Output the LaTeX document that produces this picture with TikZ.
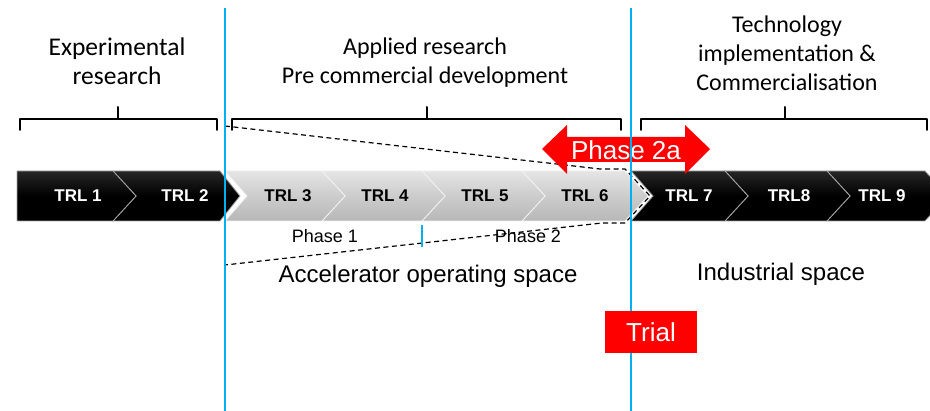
\documentclass[tikz,border=0pt]{standalone}
\usepackage{fontspec}
\setmainfont{Liberation Sans}
\newfontfamily\calfont{Carlito}
\definecolor{skyb}{RGB}{0,176,240}
\definecolor{redx}{RGB}{255,0,0}
\begin{document}
\begin{tikzpicture}[x=1pt,y=-1pt]
\tikzset{
 blk/.style={top color=black!85, bottom color=black, middle color=black, draw=white!65!black, line width=0.8pt},
 gry/.style={top color=white!90!black, bottom color=white!72!black, middle color=white!80!black, draw=white!95!black, line width=0.8pt},
 trlw/.style={text=white, font=\fontsize{17}{18}\selectfont\bfseries},
 trlb/.style={text=black, font=\fontsize{17}{18}\selectfont\bfseries},
 hdr/.style={align=center, font=\calfont\fontsize{24}{29}\selectfont},
 lbl/.style={font=\fontsize{24}{28}\selectfont},
 smalllbl/.style={font=\fontsize{18}{20}\selectfont},
 brk/.style={line width=2pt, line join=round, line cap=round},
 dsh/.style={line width=1.2pt, dash pattern=on 5pt off 3.5pt},
 vline/.style={draw=skyb, line width=2pt},
 redbox/.style={fill=redx, draw=none},
}
\useasboundingbox (0,0) rectangle (930,411);
\fill[white] (0,0) rectangle (930,411);

% brackets
\draw[brk] (20,130) -- (20,119) -- (217,119) -- (217,130) (118,119) -- (118,107);
\draw[brk] (232,130) -- (232,119) -- (621,119) -- (621,130) (427,119) -- (427,107);
\draw[brk] (641,130) -- (641,119) -- (927,119) -- (927,130) (785,119) -- (785,107);

% headers
\node[hdr, font=\calfont\fontsize{25.5}{29}\selectfont] (hexp) at (117,61) {Experimental\\research};
\node[hdr] (happ) at (425,63) {Applied research\\Pre commercial development};
\node[hdr] (htec) at (787,53) {Technology\\implementation \&\\Commercialisation};

% black chevrons right
\path[blk] (827,171) -- (925,171) -- (948,196) -- (925,221) -- (827,221) -- (850,196) -- cycle;
\path[blk] (725,171) -- (827,171) -- (850,196) -- (827,221) -- (725,221) -- (748,196) -- cycle;
\path[blk] (631,171) -- (725,171) -- (748,196) -- (725,221) -- (631,221) -- (653,196) -- cycle;
% grey chevrons
\path[gry] (522,171) -- (625,171) -- (648,196) -- (625,221) -- (522,221) -- (545,196) -- cycle;
\path[gry] (422,171) -- (522,171) -- (545,196) -- (522,221) -- (422,221) -- (445,196) -- cycle;
\path[gry] (322,171) -- (422,171) -- (445,196) -- (422,221) -- (322,221) -- (345,196) -- cycle;
\path[gry] (225,171) -- (322,171) -- (345,196) -- (322,221) -- (225,221) -- (247,196) -- cycle;
% black chevrons left
\path[blk] (113,171) -- (220,171) -- (240,196) -- (220,221) -- (113,221) -- (136,196) -- cycle;
\path[blk] (17,171) -- (113,171) -- (136,196) -- (113,221) -- (17,221) -- cycle;

% TRL labels
\node[trlw] (t1) at (78,196) {TRL 1};
\node[trlw] (t2) at (185,196) {TRL 2};
\node[trlb] (t3) at (288,196) {TRL 3};
\node[trlb] (t4) at (385,196) {TRL 4};
\node[trlb] (t5) at (485,196) {TRL 5};
\node[trlb] (t6) at (585,196) {TRL 6};
\node[trlw] (t7) at (689,196) {TRL 7};
\node[trlw] (t8) at (789,196) {TRL8};
\node[trlw] (t9) at (882,196) {TRL 9};

% dashed zoom outline
\draw[dsh] (225,126) -- (600,169) -- (625,169) -- (650,196) -- (625,223) -- (602,223) -- (225,265) -- cycle;

% phase labels
\node[smalllbl] (p1) at (325,236) {Phase 1};
\node[smalllbl] (p2) at (528,236) {Phase 2};
\draw[skyb, line width=1.5pt] (422,225) -- (422,247);

% space labels
\node[lbl] (acc) at (428,276) {Accelerator operating space};
\node[lbl] (ind) at (781,274) {Industrial space};

% red double arrow
\path[redbox] (542,149) -- (567,125) -- (567,137) -- (685,137) -- (685,125) -- (710,149) -- (685,174) -- (685,162) -- (567,162) -- (567,174) -- cycle;
\node[text=white, font=\fontsize{26}{28}\selectfont] (ph2a) at (626,150) {Phase 2a};

% blue vertical lines
\coordinate (b1t) at (225,8);
\coordinate (b1b) at (225,411);
\coordinate (b2t) at (631,8);
\coordinate (b2b) at (631,411);
\draw[vline] (b1t) -- (b1b);
\draw[vline] (b2t) -- (b2b);

% trial box
\node[redbox, minimum width=92pt, minimum height=42pt, inner sep=0pt, text=white, font=\fontsize{26}{28}\selectfont] (trial) at (651,332) {Trial};
\end{tikzpicture}
\end{document}
